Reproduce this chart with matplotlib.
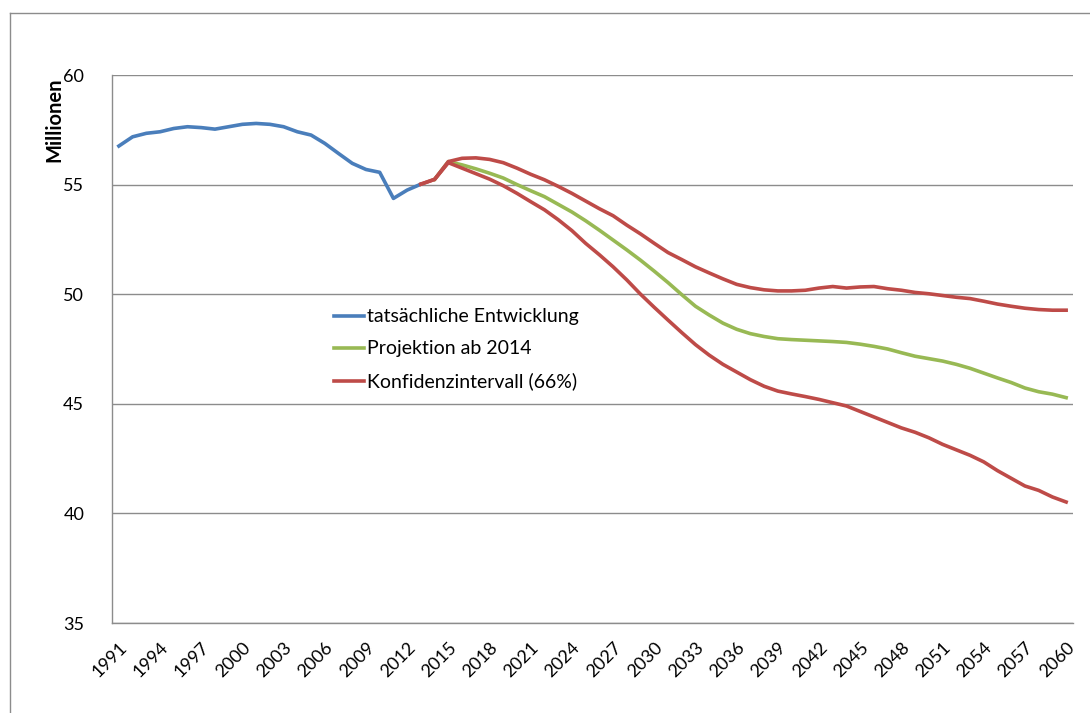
import numpy as np
import matplotlib
matplotlib.use("Agg")
import matplotlib.pyplot as plt
from matplotlib.lines import Line2D

plt.rcParams["font.family"] = ["Lato", "DejaVu Sans"]

# --- data (Millionen) ---
years = list(range(1991, 2061))

actual_years = list(range(1991, 2014))
actual = [56.76, 57.18, 57.34, 57.41, 57.56, 57.64, 57.60, 57.53, 57.64, 57.75,
          57.79, 57.75, 57.64, 57.41, 57.26, 56.88, 56.42, 55.97, 55.69, 55.56,
          54.37, 54.75, 55.02]

proj_years = list(range(2014, 2061))
projection = [55.24, 56.05, 55.90, 55.72, 55.52, 55.30, 55.00, 54.72, 54.45, 54.10,
              53.75, 53.35, 52.92, 52.47, 52.02, 51.55, 51.05, 50.53, 49.98, 49.45,
              49.05, 48.68, 48.40, 48.20, 48.07, 47.97, 47.93, 47.90, 47.87, 47.84,
              47.80, 47.72, 47.62, 47.50, 47.33, 47.17, 47.06, 46.95, 46.80, 46.62,
              46.40, 46.18, 45.97, 45.72, 45.55, 45.44, 45.28]

ci_years = list(range(2013, 2061))
ci_upper = [55.02, 55.24, 56.05, 56.20, 56.22, 56.15, 56.00, 55.75, 55.47, 55.22,
            54.92, 54.60, 54.25, 53.90, 53.58, 53.15, 52.75, 52.32, 51.90, 51.58,
            51.25, 50.97, 50.70, 50.45, 50.30, 50.20, 50.15, 50.15, 50.18, 50.28,
            50.35, 50.28, 50.33, 50.35, 50.25, 50.18, 50.08, 50.02, 49.94, 49.86,
            49.80, 49.68, 49.55, 49.45, 49.36, 49.30, 49.27, 49.27]
ci_lower = [55.02, 55.24, 56.00, 55.75, 55.50, 55.25, 54.95, 54.60, 54.22, 53.85,
            53.40, 52.90, 52.32, 51.80, 51.25, 50.65, 50.00, 49.40, 48.82, 48.25,
            47.70, 47.22, 46.80, 46.45, 46.10, 45.80, 45.58, 45.45, 45.33, 45.20,
            45.05, 44.90, 44.65, 44.40, 44.15, 43.90, 43.70, 43.45, 43.15, 42.90,
            42.65, 42.35, 41.95, 41.60, 41.25, 41.05, 40.75, 40.52]

tick_years = years[::3]

BLUE = "#4A7EBB"
GREEN = "#98B954"
RED = "#BE4B48"
GRID = "#8C8C8C"

fig = plt.figure(figsize=(10.9, 7.13), dpi=100)
ax = fig.add_axes([112 / 1090, 90 / 713, 961 / 1090, 548 / 713])


def idx(ys):
    return [y - years[0] for y in ys]


ax.plot(idx(actual_years), actual, color=BLUE, lw=2.6, label="tatsächliche Entwicklung")
ax.plot(idx(proj_years), projection, color=GREEN, lw=2.6, label="Projektion ab 2014")
ax.plot(idx(ci_years), ci_upper, color=RED, lw=2.6, label="Konfidenzintervall (66%)")
ax.plot(idx(ci_years), ci_lower, color=RED, lw=2.6)

ax.set_xlim(-0.5, len(years) - 0.5)
ax.set_ylim(35, 60)
ax.set_yticks([35, 40, 45, 50, 55, 60])
ax.set_xticks(idx(tick_years))
ax.set_xticklabels([str(y) for y in tick_years], rotation=45, ha="right",
                   rotation_mode="anchor", fontsize=13)
ax.tick_params(axis="x", length=0, pad=12)
ax.tick_params(axis="y", length=0, pad=20, labelsize=13)
ax.grid(axis="y", color=GRID, lw=1)
ax.set_axisbelow(True)
for s in ["top", "right"]:
    ax.spines[s].set_visible(False)
for s in ["left", "bottom"]:
    ax.spines[s].set_color(GRID)
    ax.spines[s].set_linewidth(1)

ax.set_ylabel("Millionen", fontsize=14.5, fontweight="bold")
ax.yaxis.set_label_coords(-48 / 961, 1 - 45 / 548)

ax.legend(loc="upper left", bbox_to_anchor=(0.221, 0.592), frameon=False,
          fontsize=14, handlelength=1.55, handletextpad=0.15, labelspacing=0.78,
          borderpad=0)

# chart area border (only left and top edges fall inside the picture)
fig.add_artist(Line2D([10 / 1090, 10 / 1090], [0, 1 - 13 / 713], color=GRID, lw=1))
fig.add_artist(Line2D([10 / 1090, 1], [1 - 13 / 713, 1 - 13 / 713], color=GRID, lw=1))

fig.savefig("out.png", dpi=100, facecolor="white")
